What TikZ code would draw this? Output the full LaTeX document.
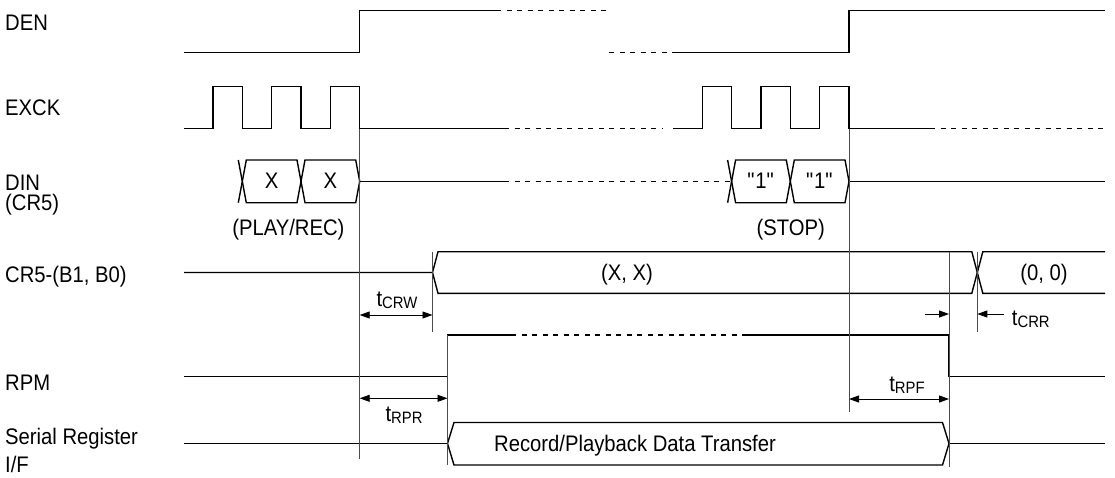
\documentclass[tikz,border=0pt]{standalone}
\usepackage{fontspec}
\setmainfont{Liberation Sans}[FakeStretch=0.9]
\usetikzlibrary{arrows.meta}
\newcommand{\tsub}[2]{#1\raisebox{-2pt}{\fontsize{16.5}{16}\selectfont #2}}
\newcommand{\qone}{\textquotedbl 1\textquotedbl}

\begin{document}
\begin{tikzpicture}%
        [x=1pt, y=-1pt,
        sig/.style={line width=1.4pt, black, line join=miter},
        gap/.style={sig, dash pattern=on 5pt off 5.5pt},
        guide/.style={line width=0.8pt, black!70},
        dim/.style={line width=0.9pt, black, {Triangle[length=10pt,width=7pt]}-{Triangle[length=10pt,width=7pt]}},
        inarr/.style={line width=0.9pt, black, -{Triangle[length=10pt,width=7pt]}},
        txt/.style={inner sep=0pt, anchor=base, font=\fontsize{22.5}{26}\selectfont},
        sname/.style={txt, anchor=base west}]
    %
    \useasboundingbox (0,0) rectangle (1115,477);
    %
    %% Signal names
    \node[sname] (den)  at (5,30.7)  {DEN};
    \node[sname] (exck) at (5,115)   {EXCK};
    \node[sname] (din)  at (5,190)   {DIN};
    \node[sname] (din2) at (5,210.7) {(CR5)};
    \node[sname] (cr5)  at (5,282.7) {CR5-(B1, B0)};
    \node[sname] (rpm)  at (5,390)   {RPM};
    \node[sname] (sri)  at (5,444)   {Serial Register};
    \node[sname] (sri2) at (5,472.3) {I/F};
    %%
    %% Drawing DEN
    \draw[sig] (184,52.5) -- (359.7,52.5) -- (359.7,10.7) -- (496,10.7);
    \draw[gap] (496,10.7) -- (609,10.7);
    \draw[gap] (609,52.5) -- (672,52.5);
    \draw[sig] (672,52.5) -- (849,52.5) -- (849,10.7) -- (1105,10.7);
    %%
    %% Drawing EXCK
    \draw[sig] (184,128.5) \foreach \t in {213,271.7,330.3} { -- (\t,128.5) -- (\t,86.7) -- ({\t+29.4},86.7) -- ({\t+29.4},128.5) } -- (504,128.5);
    \draw[gap] (504,128.5) -- (663,128.5);
    \draw[sig] (673,128.5) \foreach \t in {702.3,761,819.6} { -- (\t,128.5) -- (\t,86.7) -- ({\t+29.4},86.7) -- ({\t+29.4},128.5) } -- (930,128.5);
    \draw[gap] (930,128.5) -- (1105,128.5);
    %%
    %% Drawing DIN
    \foreach \a/\b in {242.3/301, 301/359.7, 731.6/790.3, 790.3/849}
        \draw[sig] (\a,181.35) -- (\a+4,160) -- (\b-4,160) -- (\b,181.35) -- (\b-4,202.7) -- (\a+4,202.7) -- cycle;
    \foreach \a in {242.3, 731.6}
        \draw[sig] (\a-4,160) -- (\a,181.35) -- (\a-4,202.7);
    \draw[sig] (359.7,181.35) -- (504,181.35);
    \draw[gap] (504,181.35) -- (731.6,181.35);
    \draw[sig] (849,181.35) -- (1105,181.35);
    \node[txt] (dx1) at (271.7,188.9) {X};
    \node[txt] (dx2) at (330.3,188.9) {X};
    \node[txt] (dpr) at (288.4,235.9) {(PLAY/REC)};
    \node[txt] (do1) at (761,188.9)   {\qone};
    \node[txt] (do2) at (819.7,188.9) {\qone};
    \node[txt] (dst) at (790.7,235.9) {(STOP)};
    %%
    %% Drawing CR5-(B1, B0)
    \draw[sig] (184,272.5) -- (432.5,272.5) -- (438,251.7) -- (971.8,251.7) -- (977.3,272.5) -- (971.8,293.3) -- (438,293.3) -- (432.5,272.5);
    \draw[sig] (1105,251.7) -- (982.8,251.7) -- (977.3,272.5) -- (982.8,293.3) -- (1105,293.3);
    \node[txt] (cxx) at (627,280.2)  {(X, X)};
    \node[txt] (c00) at (1044,280.2) {(0, 0)};
    %%
    %% Drawing RPM
    \draw[sig] (184,376.7) -- (447.5,376.7) -- (447.5,334.8) -- (511,334.8);
    \draw[gap] (511,334.8) -- (746,334.8);
    \draw[sig] (746,334.8) -- (949,334.8) -- (949,376.7) -- (1105,376.7);
    %%
    %% Drawing the serial register I/F
    \draw[sig] (184,443.5) -- (447.5,443.5);
    \draw[sig] (447.5,443.5) -- (454,422.5) -- (942.5,422.5) -- (949,443.5) -- (942.5,465) -- (454,465) -- cycle;
    \draw[sig] (949,443.5) -- (1105,443.5);
    \node[txt] (rpd) at (635,451.7) {Record/Playback Data Transfer};
    %%
    %% Drawing the guide lines
    \draw[guide] (359.7,128.5) -- (359.7,458.5);
    \draw[guide] (849,128.5) -- (849,411.7);
    \draw[guide] (432.5,251.7) -- (432.5,331.7);
    \draw[guide] (977.3,251.7) -- (977.3,331.7);
    \draw[guide] (447.5,334.8) -- (447.5,465);
    \draw[guide] (949,251.7) -- (949,466.7);
    %%
    %% Drawing the timings
    \coordinate (crw-a) at (359.7,315);
    \coordinate (crw-b) at (432.5,315);
    \coordinate (rpr-a) at (359.7,398.3);
    \coordinate (rpr-b) at (447.5,398.3);
    \coordinate (rpf-a) at (849,399);
    \coordinate (rpf-b) at (949,399);
    \coordinate (crr-a) at (925,314);
    \coordinate (crr-b) at (949,314);
    \coordinate (crr-c) at (977.3,314);
    \coordinate (crr-d) at (1004,314);
    \draw[dim] (crw-a) -- (crw-b);
    \draw[dim] (rpr-a) -- (rpr-b);
    \draw[dim] (rpf-a) -- (rpf-b);
    \draw[inarr] (crr-a) -- (crr-b);
    \draw[inarr] (crr-d) -- (crr-c);
    \node[txt] (tcrw) at (397,306.5)  {\tsub{t}{CRW}};
    \node[txt] (trpr) at (404,421.7)  {\tsub{t}{RPR}};
    \node[txt] (trpf) at (907,391.7)  {\tsub{t}{RPF}};
    \node[txt, anchor=base west] (tcrr) at (1011.7,325) {\tsub{t}{CRR}};
    %%
\end{tikzpicture}
\end{document}
